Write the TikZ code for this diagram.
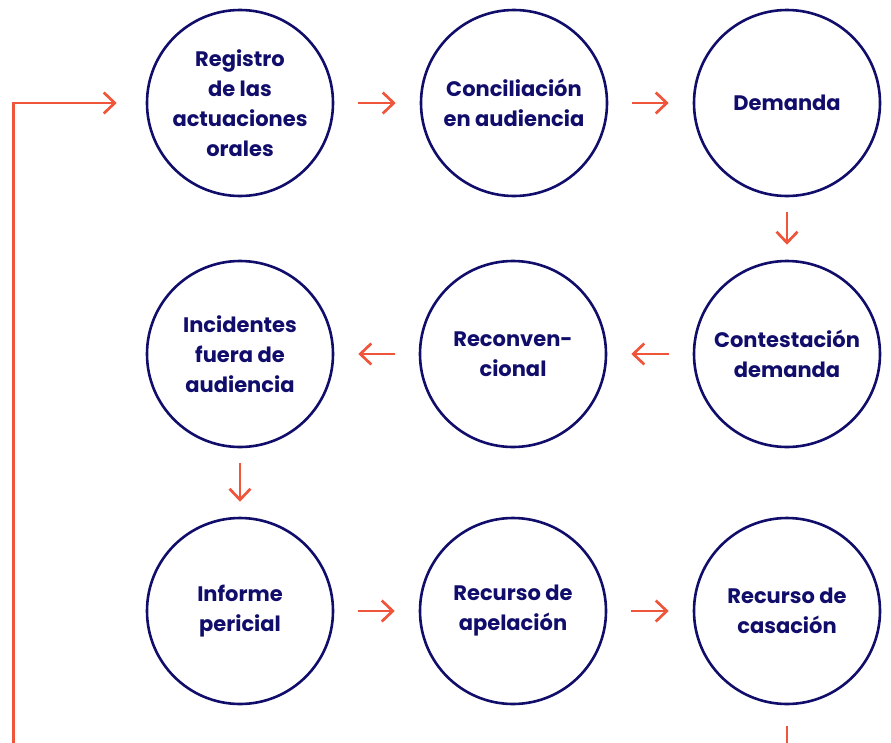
\documentclass[tikz,border=0pt]{standalone}
\usepackage{fontspec}
\setmainfont{Poppins}
\usetikzlibrary{arrows.meta}
\definecolor{navy}{HTML}{110D6A}
\definecolor{flowc}{HTML}{EE553B}
\tikzset{
  stage/.style={circle, draw=navy, line width=2.6pt, minimum size=186pt, inner sep=0pt,
    text=navy, align=center, font=\fontsize{21}{30}\selectfont\bfseries},
  flow/.style={draw=flowc, line width=2.7pt, -{Straight Barb[length=11pt,width=21pt,line width=2.7pt]}},
  hflow/.style={flow, shorten <=24pt, shorten >=24pt},
  vflow/.style={flow, shorten <=15pt, shorten >=15pt}
}
\begin{document}
\begin{tikzpicture}[x=1pt,y=-1pt]
\useasboundingbox (0,0) rectangle (891,742);
\node[stage] (c1) at (240,103) {Registro\\de las\\actuaciones\\orales};
\node[stage] (c2) at (514,103) {Conciliación\\en audiencia};
\node[stage] (c3) at (787,103) {Demanda};
\node[stage] (c4) at (240,354) {Incidentes\\fuera de\\audiencia};
\node[stage] (c5) at (513,354) {Reconven-\\cional};
\node[stage] (c6) at (787,354) {Contestación\\demanda};
\node[stage] (c7) at (240,611) {Informe\\pericial};
\node[stage] (c8) at (513,611) {Recurso de\\apelación};
\node[stage] (c9) at (787,611) {Recurso de\\casación};
\draw[hflow] (c1) -- (c2);
\draw[hflow] (c2) -- (c3);
\draw[vflow] (c3) -- (c6);
\draw[hflow] (c6) -- (c5);
\draw[hflow] (c5) -- (c4);
\draw[vflow] (c4) -- (c7);
\draw[hflow] (c7) -- (c8);
\draw[hflow] (c8) -- (c9);
\draw[flow] ([yshift=-21pt]c9.south) -- ++(0,50) -| ([xshift=-132pt]c1.west) -- ([xshift=-29pt]c1.west);
\end{tikzpicture}
\end{document}
